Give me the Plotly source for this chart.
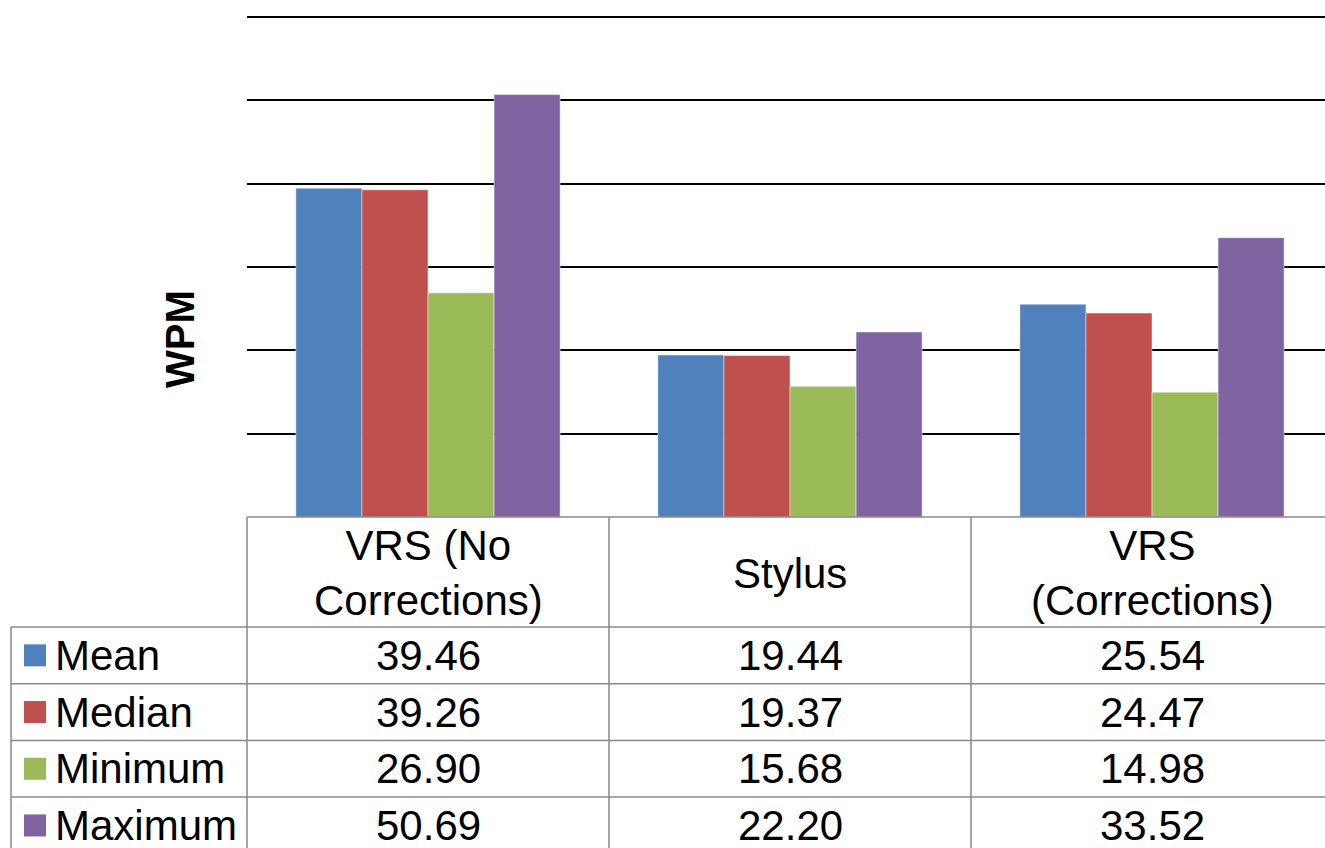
import plotly.graph_objects as go

categories = ["VRS (No Corrections)", "Stylus", "VRS (Corrections)"]
header_labels = ["VRS (No<br>Corrections)", "Stylus", "VRS<br>(Corrections)"]
series_names = ["Mean", "Median", "Minimum", "Maximum"]
mean_vals = [39.46, 19.44, 25.54]
median_vals = [39.26, 19.37, 24.47]
minimum_vals = [26.90, 15.68, 14.98]
maximum_vals = [50.69, 22.20, 33.52]
series_colors = ["#4F81BD", "#C0504D", "#9BBB59", "#8064A2"]
y_title = "WPM"
grid_vals = [10, 20, 30, 40, 50, 60]

W, H = 1325, 848
FONT = "Liberation Sans, Arial, sans-serif"
FS = 42


def px(x):
    return x / W


def py(y):
    return 1 - y / H


plot_left, plot_top, plot_bottom = 247, 17, 517
col_w = 362
header_bottom = 627
row_h = 56.7
legend_left = 11
grid_col = "#888888"

# keep axis area a bit above the 60 gridline so it is drawn
px_per_unit = (plot_bottom - plot_top) / 60.0
axis_top = 8
y_max = (plot_bottom - axis_top) / px_per_unit

series_values = [mean_vals, median_vals, minimum_vals, maximum_vals]

fig = go.Figure()
for name, vals, col in zip(series_names, series_values, series_colors):
    fig.add_trace(go.Bar(
        x=categories, y=vals, name=name,
        marker=dict(color=col, line=dict(color="rgba(255,255,255,0.45)", width=1)),
        showlegend=False,
    ))

span = (W - plot_left) / col_w

shapes = []
annotations = []

# table frame
line = dict(color=grid_col, width=1.5)
shapes.append(dict(type="line", xref="paper", yref="paper", x0=px(plot_left), x1=1,
                   y0=py(plot_bottom), y1=py(plot_bottom), line=line))
for i in range(len(series_names) + 1):
    yy = header_bottom + i * row_h
    if yy <= H:
        shapes.append(dict(type="line", xref="paper", yref="paper", x0=px(legend_left), x1=1,
                           y0=py(yy), y1=py(yy), line=line))
shapes.append(dict(type="line", xref="paper", yref="paper", x0=px(legend_left), x1=px(legend_left),
                   y0=py(header_bottom), y1=0, line=line))
for c in range(len(categories)):
    xx = plot_left + c * col_w
    shapes.append(dict(type="line", xref="paper", yref="paper", x0=px(xx), x1=px(xx),
                       y0=py(plot_bottom), y1=0, line=line))

# header labels
for cat, lab in zip(categories, header_labels):
    annotations.append(dict(x=cat, xref="x", y=py((plot_bottom + header_bottom) / 2 + 1), yref="paper",
                            text=lab, showarrow=False, font=dict(family=FONT, size=FS, color="black"),
                            xanchor="center", yanchor="middle"))

# data rows
for r, (name, vals, col) in enumerate(zip(series_names, series_values, series_colors)):
    yc = header_bottom + (r + 0.5) * row_h
    shapes.append(dict(type="rect", xref="paper", yref="paper", x0=px(24), x1=px(46),
                       y0=py(yc - 11), y1=py(yc + 11), fillcolor=col, line=dict(width=0)))
    annotations.append(dict(x=px(53), xref="paper", y=py(yc), yref="paper", text=name,
                            showarrow=False, xanchor="left", yanchor="middle",
                            font=dict(family=FONT, size=FS, color="black")))
    for cat, v in zip(categories, vals):
        annotations.append(dict(x=cat, xref="x", y=py(yc), yref="paper", text=f"{v:.2f}",
                                showarrow=False, xanchor="center", yanchor="middle",
                                font=dict(family=FONT, size=FS, color="black")))

annotations.append(dict(x=px(180), xref="paper", y=py(339), yref="paper", text=f"<b>{y_title}</b>",
                        textangle=-90, showarrow=False, xanchor="center", yanchor="middle",
                        font=dict(family=FONT, size=40, color="black")))

fig.update_layout(
    width=W, height=H, margin=dict(l=0, r=0, t=0, b=0),
    paper_bgcolor="white", plot_bgcolor="white",
    barmode="group", bargap=0.27, bargroupgap=0,
    xaxis=dict(domain=[px(plot_left), 1], range=[-0.5, -0.5 + span], showticklabels=False,
               showgrid=False, zeroline=False, showline=False, ticks=""),
    yaxis=dict(domain=[py(plot_bottom), py(axis_top)], range=[0, y_max], tickvals=grid_vals,
               showticklabels=False, showgrid=True, gridcolor="black", gridwidth=1.5,
               zeroline=False, showline=False, ticks=""),
    shapes=shapes, annotations=annotations,
)

fig.write_html("out.html", config={"displayModeBar": False},
               post_script="document.body.style.margin='0';")
